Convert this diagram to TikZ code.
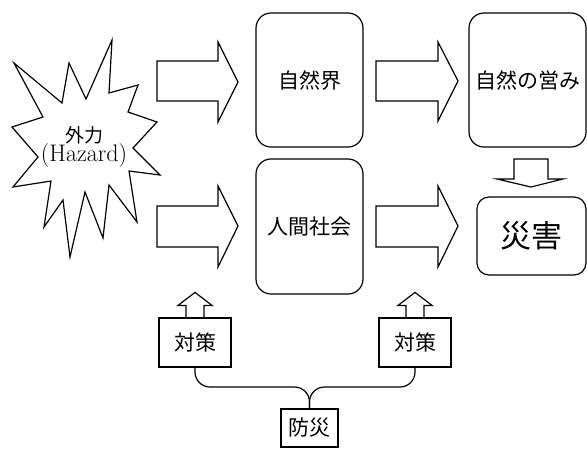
\documentclass[tikz,border=0pt]{standalone}
\usepackage{fontspec}
\newfontfamily\jp{Noto Sans CJK JP}
\begin{document}
\begin{tikzpicture}[x=1pt,y=-1pt,
  box/.style={draw,line width=1.2pt,rounded corners=15pt,inner sep=0pt,align=center,font=\jp\fontsize{21}{24}\selectfont},
  sqbox/.style={draw,line width=1.2pt,inner sep=0pt,align=center,font=\jp\fontsize{21}{24}\selectfont},
  blockarrow/.style={draw,line width=1.2pt,line join=miter},
  link/.style={draw,line width=1.2pt,rounded corners=15pt}]
\useasboundingbox (0,0) rectangle (587,448);

% starburst
\draw[blockarrow] (14,63) -- (62,103) -- (69,63) -- (86,99) -- (112,40) -- (109,93) -- (138,85)
  -- (128,112) -- (157,122) -- (133,148) -- (160,175) -- (129,171) -- (137,222) -- (109,185)
  -- (103,238) -- (85,192) -- (70,257) -- (63,200) -- (44,227) -- (51,181) -- (13,187)
  -- (38,157) -- (12,127) -- (43,117) -- cycle;
\node[inner sep=0pt,font=\jp\fontsize{19}{19}\selectfont] (haz) at (84,135) {外力};
\node[inner sep=0pt,font=\fontsize{24}{24}\selectfont] (hazen) at (84,156) {(Hazard)};

% boxes
\node[box,minimum width=107pt,minimum height=134pt] (nat) at (309.5,80) {自然界};
\node[box,minimum width=117pt,minimum height=134pt] (natop) at (527.5,80) {自然の営み};
\node[box,minimum width=107pt,minimum height=135pt] (hum) at (309.5,226.5) {人間社会};
\node[box,rounded corners=12pt,minimum width=109pt,minimum height=78pt,font=\jp\fontsize{31}{34}\selectfont] (dis) at (531.5,236) {災害};
\node[sqbox,minimum width=72pt,minimum height=49pt] (tl) at (195,342.5) {対策};
\node[sqbox,minimum width=72pt,minimum height=49pt] (tr) at (415,342.5) {対策};
\node[sqbox,minimum width=57pt,minimum height=38pt] (bs) at (309.5,428) {防災};

% right block arrows
\draw[blockarrow] (157,61) -- (218,61) -- (218,42) -- (238,82) -- (218,122) -- (218,101) -- (157,101) -- cycle;
\draw[blockarrow] (376,61) -- (438,61) -- (438,42) -- (458,81) -- (438,121) -- (438,101) -- (376,101) -- cycle;
\draw[blockarrow] (157,206) -- (218,206) -- (218,186) -- (238,226) -- (218,267) -- (218,247) -- (157,247) -- cycle;
\draw[blockarrow] (376,206) -- (438,206) -- (438,186) -- (458,226) -- (438,267) -- (438,247) -- (376,247) -- cycle;

% down arrow
\draw[blockarrow] (514,159) -- (548,159) -- (548,179) -- (563,179) -- (531,187) -- (497,179) -- (514,179) -- cycle;

% up arrows on 対策 boxes
\draw[blockarrow] ([xshift=-9pt]tl.north) -- ++(0,-12) -- ++(-8,0) -- ++(17,-13) -- ++(17,13) -- ++(-8,0) -- ([xshift=9pt]tl.north);
\draw[blockarrow] ([xshift=-9pt]tr.north) -- ++(0,-12) -- ++(-8,0) -- ++(17,-13) -- ++(17,13) -- ++(-8,0) -- ([xshift=9pt]tr.north);

% connectors
\coordinate (mid) at (309.5,387);
\draw[link] (tl.south) |- (mid) -- (bs.north);
\draw[link] (tr.south) |- (mid) -- (bs.north);
\end{tikzpicture}
\end{document}
